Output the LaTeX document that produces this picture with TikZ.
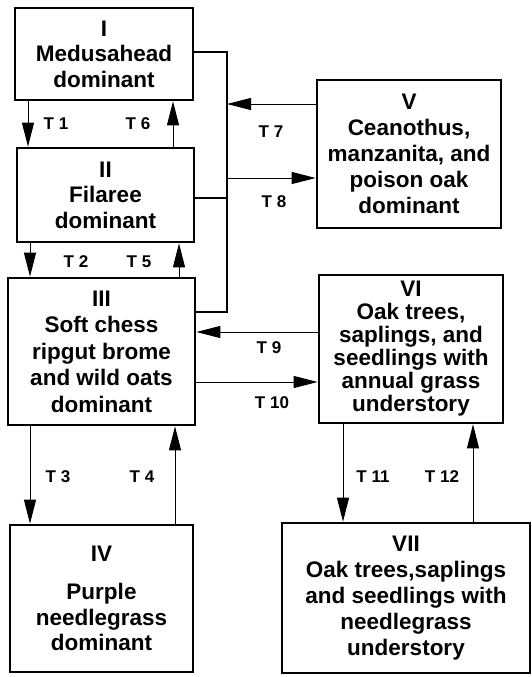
\documentclass[tikz,border=0pt]{standalone}
\usepackage{fontspec}
\setmainfont{Liberation Sans}
\usetikzlibrary{arrows.meta}

\begin{document}
\begin{tikzpicture}[
  x=1pt,y=-1pt,
  state/.style={rectangle,draw=black,line width=2.7pt,align=center,inner sep=0pt,
                font=\fontsize{22.5}{25.5}\selectfont\bfseries},
  trans/.style={-{Triangle[length=24pt,width=12pt]},draw=black,line width=1pt},
  bar/.style={draw=black,line width=2.7pt,line join=miter},
  tlabel/.style={inner sep=0pt,font=\fontsize{17}{18}\selectfont\bfseries}
]
\useasboundingbox (0,0) rectangle (531,677);
% states
\node[state,minimum width=178pt,minimum height=92pt] (I) at (104,54) {I\\Medusahead\\dominant};
\node[state,minimum width=177pt,minimum height=94pt] (II) at (105.5,195) {II\\Filaree\\dominant};
\node[state,minimum width=187pt,minimum height=147pt,font=\fontsize{22.5}{26.5}\selectfont\bfseries] (III) at (101.5,351.5)
  {III\\Soft chess\\ripgut brome\\and wild oats\\dominant};
\node[state,minimum width=183pt,minimum height=147pt] (IV) at (101.5,598.5)
  {IV\\[13pt]Purple\\needlegrass\\dominant};
\node[state,minimum width=184pt,minimum height=148pt,font=\fontsize{22.5}{26}\selectfont\bfseries] (V) at (409,154)
  {V\\Ceanothus,\\manzanita, and\\poison oak\\dominant};
\node[state,minimum width=184pt,minimum height=148pt,font=\fontsize{22.5}{23}\selectfont\bfseries] (VI) at (411,349)
  {VI\\Oak trees,\\saplings, and\\seedlings with\\annual grass\\understory};
\node[state,minimum width=248pt,minimum height=150pt,font=\fontsize{22.5}{26}\selectfont\bfseries] (VII) at (406,598)
  {VII\\Oak trees,saplings\\and seedlings with\\needlegrass\\understory};
% bracket joining I, II and III
\coordinate (join) at (227,0);
\draw[bar] (I.east |- 0,52) -- (join |- 0,52) -- (join |- 0,312) -- (III.east |- 0,312);
\draw[bar] (II.east |- 0,198) -- (join |- 0,198);
% transitions
\draw[trans] (I.south -| 28,0) -- (II.north -| 28,0);
\draw[trans] (II.north -| 173,0) -- (I.south -| 173,0);
\draw[trans] (II.south -| 30,0) -- (III.north -| 30,0);
\draw[trans] (III.north -| 179,0) -- (II.south -| 179,0);
\draw[trans] (III.south -| 30,0) -- (IV.north -| 30,0);
\draw[trans] (IV.north -| 175,0) -- (III.south -| 175,0);
\draw[trans] (V.west |- 0,104) -- (join |- 0,104);
\draw[trans] (join |- 0,178) -- (V.west |- 0,178);
\draw[trans] (VI.west |- 0,332) -- (III.east |- 0,332);
\draw[trans] (III.east |- 0,382) -- (VI.west |- 0,382);
\draw[trans] (VI.south -| 343,0) -- (VII.north -| 343,0);
\draw[trans] (VII.north -| 473,0) -- (VI.south -| 473,0);
% labels
\node[tlabel] (t1) at (56,124) {T 1};
\node[tlabel] (t6) at (138,124) {T 6};
\node[tlabel] (t2) at (76,262) {T 2};
\node[tlabel] (t5) at (139,262) {T 5};
\node[tlabel] (t3) at (58,477) {T 3};
\node[tlabel] (t4) at (142,477) {T 4};
\node[tlabel] (t7) at (271,132) {T 7};
\node[tlabel] (t8) at (274,202) {T 8};
\node[tlabel] (t9) at (269,348) {T 9};
\node[tlabel] (t10) at (272,403) {T 10};
\node[tlabel] (t11) at (373,477) {T 11};
\node[tlabel] (t12) at (442,477) {T 12};
\end{tikzpicture}
\end{document}
